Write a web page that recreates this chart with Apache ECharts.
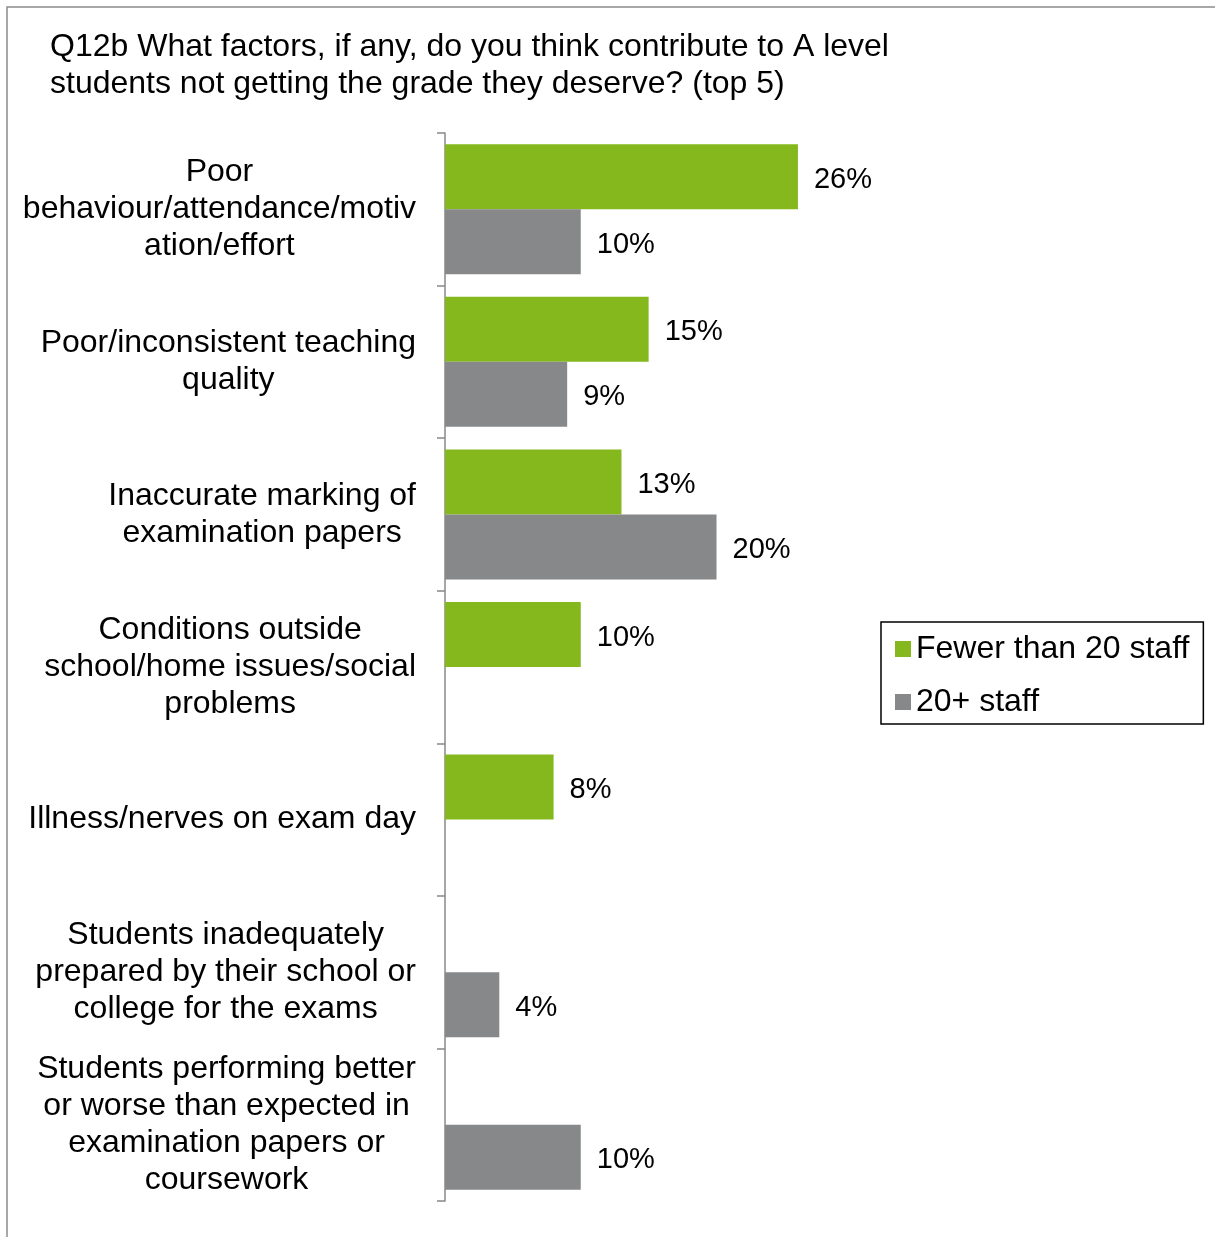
<!DOCTYPE html>
<html>
<head>
<meta charset="utf-8">
<script src="https://cdn.jsdelivr.net/npm/echarts@6/dist/echarts.min.js"></script>
<style>
  html, body { margin: 0; padding: 0; background: #fff; }
  #main { width: 1215px; height: 1237px; }
</style>
</head>
<body>
<div id="main"></div>
<script>
// 数据
var categories = [
  'Poor\nbehaviour/attendance/motiv\nation/effort',
  'Poor/inconsistent teaching\nquality',
  'Inaccurate marking of\nexamination papers',
  'Conditions outside\nschool/home issues/social\nproblems',
  'Illness/nerves on exam day',
  'Students inadequately\nprepared by their school or\ncollege for the exams',
  'Students performing better\nor worse than expected in\nexamination papers or\ncoursework'
]
var smallStaff = [26, 15, 13, 10, 8, null, null]
var largeStaff = [10, 9, 20, null, null, 4, 10]
var seriesNames = ['Fewer than 20 staff', '20+ staff']

var font = 'Liberation Sans, Arial, sans-serif'
var myChart = echarts.init(document.getElementById('main'))

function barSeries (name, data, color) {
  return {
    name: name,
    type: 'bar',
    barWidth: 65,
    barGap: '0%',
    itemStyle: { color: color },
    label: {
      show: true,
      position: 'right',
      distance: 16,
      offset: [0, 3],
      color: '#000',
      fontFamily: font,
      fontSize: 29,
      formatter: '{c}%'
    },
    data: data
  }
}

myChart.setOption({
  animation: false,
  title: {
    text: 'Q12b What factors, if any, do you think contribute to A level\nstudents not getting the grade they deserve? (top 5)',
    left: 50,
    top: 29,
    padding: 0,
    textStyle: {
      color: '#000',
      fontFamily: font,
      fontWeight: 'normal',
      fontSize: 32,
      lineHeight: 37
    }
  },
  graphic: [
    {
      type: 'rect',
      shape: { x: 7, y: 7, width: 1300, height: 1300 },
      style: { fill: 'none', stroke: '#8c8c8c', lineWidth: 1.5 },
      silent: true
    }
  ],
  legend: {
    orient: 'vertical',
    left: 881,
    top: 622,
    padding: [11, 14, 6, 14],
    borderColor: '#000',
    borderWidth: 1.5,
    itemWidth: 16,
    itemHeight: 16,
    itemGap: 21,
    icon: 'rect',
    data: seriesNames,
    textStyle: {
      color: '#000',
      fontFamily: font,
      fontSize: 32,
      lineHeight: 30
    }
  },
  grid: {
    left: 445,
    top: 133,
    height: 1068,
    width: 543
  },
  xAxis: {
    type: 'value',
    min: 0,
    max: 40,
    show: false,
    splitLine: { show: false }
  },
  yAxis: {
    type: 'category',
    inverse: true,
    data: categories,
    axisLine: { show: true, lineStyle: { color: '#888', width: 1.5 } },
    axisTick: { show: true, length: 8, lineStyle: { color: '#888', width: 1.5 } },
    axisLabel: {
      margin: 29,
      align: 'right',
      formatter: function (value) {
        return value.split('\n').map(function (line) {
          return '{c|' + line + '}'
        }).join('\n')
      },
      rich: {
        c: {
          align: 'center',
          color: '#000',
          fontFamily: font,
          fontSize: 32,
          lineHeight: 37
        }
      }
    }
  },
  series: [
    barSeries(seriesNames[0], smallStaff, '#85b81d'),
    barSeries(seriesNames[1], largeStaff, '#87888a')
  ]
})
</script>
</body>
</html>
